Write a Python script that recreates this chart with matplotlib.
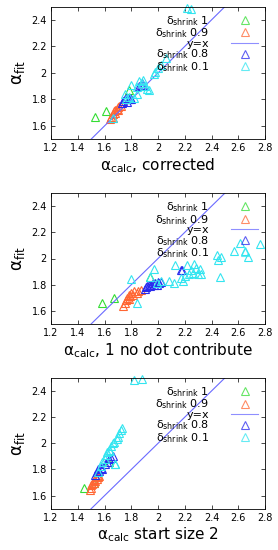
import numpy as np
import matplotlib
matplotlib.use("Agg")
from matplotlib import pyplot as plt

# panel 1: alpha_calc corrected
p1_green_x = [1.53, 1.61, 1.78]
p1_green_y = [1.67, 1.71, 1.87]
p1_orange_x = [1.64, 1.65, 1.66, 1.66, 1.67, 1.68, 1.68, 1.69, 1.70, 1.70, 1.71, 1.72]
p1_orange_y = [1.65, 1.67, 1.66, 1.69, 1.71, 1.70, 1.72, 1.73, 1.72, 1.74, 1.75, 1.75]
p1_blue_x = [1.73, 1.74, 1.75, 1.76, 1.77, 1.78, 1.79, 1.80, 1.86, 1.87, 1.88, 1.89]
p1_blue_y = [1.77, 1.79, 1.80, 1.81, 1.78, 1.80, 1.81, 1.80, 1.90, 1.91, 1.92, 1.91]
p1_cyan_x = [1.66, 1.75, 1.76, 1.78, 1.80, 1.82, 1.84, 1.84, 1.86, 1.88, 1.89, 1.90,
             1.92, 1.93, 1.97, 1.98, 2.00, 2.02, 2.06, 2.22, 2.25]
p1_cyan_y = [1.66, 1.84, 1.80, 1.82, 1.91, 1.81, 1.84, 1.89, 1.94, 1.92, 1.95, 1.90,
             1.88, 1.87, 1.99, 2.01, 2.04, 2.06, 2.11, 2.49, 2.48]

# panel 2: 1 no dot contribute
p2_green_x = [1.58, 1.67, 1.94]
p2_green_y = [1.66, 1.70, 1.86]
p2_orange_x = [1.74, 1.75, 1.76, 1.77, 1.78, 1.78, 1.79, 1.80, 1.81, 1.82, 1.84, 1.85, 1.87]
p2_orange_y = [1.64, 1.66, 1.68, 1.70, 1.69, 1.72, 1.71, 1.74, 1.72, 1.75, 1.74, 1.75, 1.76]
p2_blue_x = [1.90, 1.91, 1.92, 1.93, 1.94, 1.95, 1.96, 1.97, 1.98, 1.99, 2.00, 2.01, 2.02, 2.17, 2.18]
p2_blue_y = [1.77, 1.78, 1.79, 1.80, 1.79, 1.80, 1.81, 1.80, 1.81, 1.80, 1.82, 1.81, 1.82, 1.91, 1.91]
p2_cyan_x = [1.80, 1.84, 1.94, 1.97, 1.99, 2.02, 2.08, 2.12, 2.13, 2.17, 2.19, 2.20,
             2.22, 2.23, 2.25, 2.26, 2.27, 2.28, 2.30, 2.31, 2.32, 2.44, 2.45,
             2.46, 2.47, 2.57, 2.61, 2.65, 2.67, 2.76]
p2_cyan_y = [1.84, 1.66, 1.86, 1.92, 1.81, 1.83, 1.83, 1.81, 1.95, 1.85, 1.83, 1.87,
             1.95, 1.88, 1.91, 1.89, 1.96, 1.93, 1.88, 1.92, 1.88, 2.03, 1.99,
             1.86, 2.01, 2.06, 2.12, 2.06, 2.01, 2.11]

# panel 3: start size 2
p3_green_x = [1.45, 1.52, 1.63]
p3_green_y = [1.66, 1.70, 1.86]
p3_orange_x = [1.49, 1.50, 1.50, 1.51, 1.52, 1.52, 1.53, 1.54, 1.55, 1.55, 1.56]
p3_orange_y = [1.64, 1.66, 1.68, 1.69, 1.70, 1.72, 1.71, 1.73, 1.74, 1.76, 1.75]
p3_blue_x = [1.53, 1.54, 1.55, 1.56, 1.57, 1.58, 1.60, 1.62, 1.63, 1.65, 1.66]
p3_blue_y = [1.76, 1.78, 1.80, 1.79, 1.81, 1.80, 1.84, 1.86, 1.88, 1.89, 1.90]
p3_cyan_x = [1.55, 1.57, 1.58, 1.60, 1.61, 1.62, 1.63, 1.64, 1.65, 1.66, 1.67, 1.68,
             1.69, 1.70, 1.71, 1.72, 1.73, 1.68, 1.82, 1.88]
p3_cyan_y = [1.78, 1.83, 1.86, 1.88, 1.91, 1.93, 1.95, 1.94, 1.98, 2.00, 2.01, 1.84,
             2.03, 2.05, 2.08, 2.10, 2.12, 1.84, 2.48, 2.49]

xlabels = ["α$_{\\rm calc}$, corrected",
           "α$_{\\rm calc}$, 1 no dot contribute",
           "α$_{\\rm calc}$ start size 2"]
legend_labels = ["δ$_{\\rm shrink}$ 1", "δ$_{\\rm shrink}$ 0.9", "y=x",
                 "δ$_{\\rm shrink}$ 0.8", "δ$_{\\rm shrink}$ 0.1"]
xticks = [1.2, 1.4, 1.6, 1.8, 2.0, 2.2, 2.4, 2.6, 2.8]
yticks = [1.6, 1.8, 2.0, 2.2, 2.4]

panels = [
    (p1_green_x, p1_green_y, p1_orange_x, p1_orange_y, p1_blue_x, p1_blue_y, p1_cyan_x, p1_cyan_y),
    (p2_green_x, p2_green_y, p2_orange_x, p2_orange_y, p2_blue_x, p2_blue_y, p2_cyan_x, p2_cyan_y),
    (p3_green_x, p3_green_y, p3_orange_x, p3_orange_y, p3_blue_x, p3_blue_y, p3_cyan_x, p3_cyan_y),
]
boxes = [(0.1835, 0.747, 0.770, 0.241), (0.1835, 0.411, 0.770, 0.238), (0.1835, 0.075, 0.770, 0.238)]


def fmt(v):
    s = "%g" % v
    return s


def main():
    plt.rcParams['font.family'] = ['DejaVu Sans']
    plt.rcParams['mathtext.fontset'] = 'dejavusans'
    fig = plt.figure(figsize=(2.78, 5.5), dpi=100)

    for i, (gx, gy, ox, oy, bx, by, cx, cy) in enumerate(panels):
        ax = fig.add_axes(boxes[i])
        mk = dict(marker='^', ls='none', mfc='none', ms=5.5, mew=0.8, clip_on=False)
        ax.plot(gx, gy, color='#33dd33', label=legend_labels[0], **mk)
        ax.plot(ox, oy, color='#ff6633', label=legend_labels[1], **mk)
        ax.plot([1.2, 2.8], [1.2, 2.8], color='#6a6aff', lw=0.8, label=legend_labels[2])
        ax.plot(bx, by, color='#2a2aee', label=legend_labels[3], **mk)
        ax.plot(cx, cy, color='#33e5f0', label=legend_labels[4], **mk)

        ax.set_xlim(1.2, 2.8)
        ax.set_ylim(1.5, 2.5)
        ax.set_xticks(xticks)
        ax.set_xticklabels([fmt(v) for v in xticks])
        ax.set_yticks(yticks)
        ax.set_yticklabels([fmt(v) for v in yticks])
        ax.tick_params(direction='in', top=True, right=True, labelsize=7, length=3,
                       width=0.5, pad=3)
        for sp in ax.spines.values():
            sp.set_linewidth(0.6)
        ax.set_xlabel(xlabels[i], fontsize=11, labelpad=2)
        ax.set_ylabel("α$_{\\rm fit}$", fontsize=12, labelpad=3)

        leg = ax.legend(loc='upper right', bbox_to_anchor=(1.0, 1.0), frameon=False,
                        markerfirst=False, fontsize=8, labelspacing=-0.12,
                        handlelength=2.4, handletextpad=2.0, borderaxespad=0.25)
        for h in leg.legend_handles:
            h.set_alpha(0.75)

    fig.savefig("out.png", dpi=100)


if __name__ == "__main__":
    main()
